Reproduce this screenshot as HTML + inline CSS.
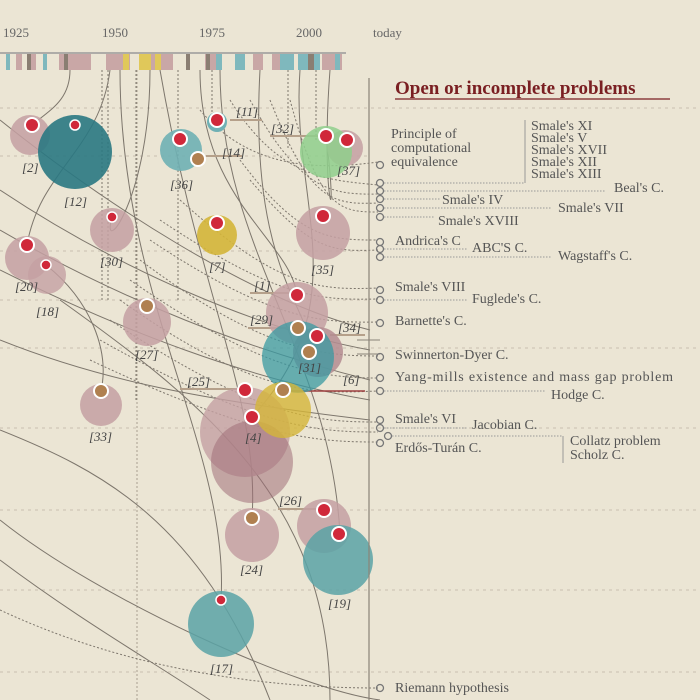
<!DOCTYPE html>
<html><head><meta charset="utf-8"><style>
html,body{margin:0;padding:0;background:#ebe5d4;}
svg{display:block;font-family:"Liberation Serif",serif;}
</style></head><body>
<svg width="700" height="700" viewBox="0 0 700 700" xmlns="http://www.w3.org/2000/svg">
<rect width="700" height="700" fill="#ebe5d4"/>
<g stroke="#cfc8b8" stroke-width="1.2" stroke-dasharray="3,4" fill="none">
<line x1="0" y1="108" x2="700" y2="108"/>
<line x1="0" y1="156" x2="368" y2="156"/>
<line x1="0" y1="251" x2="368" y2="251"/>
<line x1="0" y1="300" x2="368" y2="300"/>
<line x1="0" y1="348" x2="700" y2="348"/>
<line x1="0" y1="428" x2="700" y2="428"/>
<line x1="0" y1="510" x2="700" y2="510"/>
<line x1="0" y1="590" x2="700" y2="590"/>
<line x1="0" y1="672" x2="700" y2="672"/>
</g>
<line x1="137" y1="70" x2="137" y2="700" stroke="#a9a090" stroke-dasharray="2,2"/>
<g font-size="13" fill="#666">
<text x="3" y="37">1925</text><text x="102" y="37">1950</text><text x="199" y="37">1975</text><text x="296" y="37">2000</text><text x="373" y="37">today</text>
</g>
<line x1="0" y1="53" x2="346" y2="53" stroke="#999" stroke-width="1.5"/>
<g>
<rect x="6" y="54" width="4" height="16" fill="#7fb8bd"/><rect x="16" y="54" width="6" height="16" fill="#c9a7a6"/><rect x="27" y="54" width="4" height="16" fill="#8a7e72"/><rect x="31" y="54" width="5" height="16" fill="#c9a7a6"/><rect x="43" y="54" width="4" height="16" fill="#7fb8bd"/><rect x="59" y="54" width="32" height="16" fill="#c9a7a6"/><rect x="64" y="54" width="4" height="16" fill="#8a7e72"/>
<rect x="106" y="54" width="24" height="16" fill="#c9a7a6"/><rect x="123" y="54" width="6" height="16" fill="#e0c85a"/><rect x="139" y="54" width="12" height="16" fill="#e0c85a"/><rect x="151" y="54" width="22" height="16" fill="#c9a7a6"/><rect x="155" y="54" width="6" height="16" fill="#e0c85a"/>
<rect x="186" y="54" width="4" height="16" fill="#8a7e72"/><rect x="205" y="54" width="12" height="16" fill="#c9a7a6"/><rect x="206" y="54" width="4" height="16" fill="#8a7e72"/><rect x="216" y="54" width="6" height="16" fill="#7fb8bd"/><rect x="235" y="54" width="10" height="16" fill="#7fb8bd"/><rect x="253" y="54" width="10" height="16" fill="#c9a7a6"/>
<rect x="272" y="54" width="8" height="16" fill="#c9a7a6"/><rect x="280" y="54" width="14" height="16" fill="#7fb8bd"/><rect x="298" y="54" width="22" height="16" fill="#7fb8bd"/><rect x="308" y="54" width="6" height="16" fill="#8a7e72"/><rect x="322" y="54" width="20" height="16" fill="#c9a7a6"/><rect x="335" y="54" width="5" height="16" fill="#7fb8bd"/>
</g>
<g fill="none" stroke="#7d766c" stroke-width="1">
<path d="M70 70 C 70 100,50 110,32 125"/>
<path d="M110 70 C 100 150,40 170,27 245"/>
<path d="M150 70 C 150 200,100 260,112 217"/>
<path d="M0 120 C 100 200,250 300,370 330"/>
<path d="M0 230 C 120 300,250 350,370 380"/>
<path d="M0 340 C 100 380,200 400,370 420"/>
<path d="M0 430 C 100 470,200 520,270 700"/>
<path d="M0 520 C 100 600,300 690,380 700"/>
<path d="M0 560 C 80 620,150 660,210 700"/>
<path d="M46 265 C 90 300,110 350,101 391"/>
<path d="M200 70 C 200 200,290 240,297 295"/>
<path d="M260 70 C 250 250,300 300,310 340"/>
<path d="M300 70 C 290 200,360 300,252 417"/>
<path d="M330 70 C 320 200,340 250,326 136"/>
<path d="M160 70 C 200 300,260 400,252 518"/>
<path d="M120 70 C 120 300,230 450,221 600"/>
<path d="M220 70 C 220 250,330 350,340 534"/>
<path d="M60 300 C 200 400,330 500,330 700"/>
<path d="M0 270 C 120 330,250 380,370 400"/>
<path d="M0 190 C 120 270,260 330,370 350"/>
</g>
<g fill="none" stroke="#7d766c" stroke-width="1" stroke-dasharray="2,2">
<path d="M200 110 C 250 170,320 170,378 162"/>
<path d="M230 100 C 280 180,330 180,378 185"/>
<path d="M250 100 C 300 190,330 195,378 194"/>
<path d="M270 100 C 310 200,330 205,378 203"/>
<path d="M290 100 C 320 210,340 212,378 212"/>
<path d="M240 160 C 300 240,330 240,378 240"/>
<path d="M250 180 C 310 250,330 252,378 250"/>
<path d="M180 200 C 280 290,320 290,378 288"/>
<path d="M160 220 C 280 300,320 300,378 299"/>
<path d="M150 240 C 270 320,320 323,378 322"/>
<path d="M140 260 C 260 350,320 356,378 356"/>
<path d="M130 280 C 260 370,320 378,378 378"/>
<path d="M120 300 C 260 400,320 393,378 391"/>
<path d="M110 320 C 260 420,320 422,378 422"/>
<path d="M100 340 C 260 430,320 432,378 432"/>
<path d="M90 360 C 260 440,320 442,378 442"/>
<path d="M0 610 C 150 680,300 688,378 688"/>
<path d="M102 70 L102 300 M108 70 L108 300 M136 70 L136 400 M178 70 L178 300 M212 70 L212 120 M288 70 L288 150 M316 70 L316 140"/>
</g>
<g fill="none" stroke="#b5a08a" stroke-width="2">
<line x1="230" y1="120" x2="262" y2="120"/><line x1="270" y1="136" x2="322" y2="136"/><line x1="206" y1="156" x2="242" y2="156"/><line x1="250" y1="293" x2="292" y2="293"/><line x1="248" y1="328" x2="292" y2="328"/><line x1="180" y1="389" x2="240" y2="389"/><line x1="278" y1="509" x2="318" y2="509"/><line x1="330" y1="335" x2="365" y2="335"/>
</g>
<line x1="285" y1="391" x2="365" y2="391" stroke="#a04040" stroke-width="1.5"/>
<g>
<circle cx="30" cy="135" r="20" fill="#c4a0a2" opacity="0.85"/>
<circle cx="75" cy="152" r="37" fill="#2a7882" opacity="0.9"/>
<circle cx="217" cy="122" r="10" fill="#6fb0b4"/>
<circle cx="181" cy="150" r="21" fill="#6fb0b4" opacity="0.9"/>
<circle cx="345" cy="148" r="18" fill="#c4a0a2" opacity="0.85"/>
<circle cx="326" cy="152" r="26" fill="#8fcf8c" opacity="0.85"/>
<circle cx="112" cy="230" r="22" fill="#c4a0a2" opacity="0.85"/>
<circle cx="217" cy="235" r="20" fill="#d4b538" opacity="0.9"/>
<circle cx="323" cy="233" r="27" fill="#c4a0a2" opacity="0.85"/>
<circle cx="27" cy="258" r="22" fill="#c4a0a2" opacity="0.85"/>
<circle cx="47" cy="275" r="19" fill="#c4a0a2" opacity="0.8"/>
<circle cx="147" cy="322" r="24" fill="#c4a0a2" opacity="0.85"/>
<circle cx="297" cy="313" r="31" fill="#c4a0a2" opacity="0.85"/>
<circle cx="318" cy="352" r="25" fill="#b48c90" opacity="0.85"/>
<circle cx="298" cy="357" r="36" fill="#3a9aa2" opacity="0.75"/>
<circle cx="101" cy="405" r="21" fill="#c4a0a2" opacity="0.85"/>
<circle cx="245" cy="432" r="45" fill="#c4a0a2" opacity="0.8"/>
<circle cx="252" cy="462" r="41" fill="#a07078" opacity="0.55"/>
<circle cx="283" cy="410" r="28" fill="#d4b538" opacity="0.8"/>
<circle cx="252" cy="535" r="27" fill="#c4a0a2" opacity="0.85"/>
<circle cx="324" cy="526" r="27" fill="#c4a0a2" opacity="0.85"/>
<circle cx="338" cy="560" r="35" fill="#5aa3a6" opacity="0.85"/>
<circle cx="221" cy="624" r="33" fill="#5aa3a6" opacity="0.85"/>
</g>
<g stroke="#fff" stroke-width="2">
<g fill="#d0283a">
<circle cx="32" cy="125" r="7"/><circle cx="217" cy="120" r="7"/><circle cx="180" cy="139" r="7"/><circle cx="326" cy="136" r="7"/><circle cx="347" cy="140" r="7"/><circle cx="217" cy="223" r="7"/><circle cx="323" cy="216" r="7"/><circle cx="27" cy="245" r="7"/><circle cx="297" cy="295" r="7"/><circle cx="317" cy="336" r="7"/><circle cx="245" cy="390" r="7"/><circle cx="252" cy="417" r="7"/><circle cx="324" cy="510" r="7"/><circle cx="339" cy="534" r="7"/>
</g>
<g fill="#b08050">
<circle cx="198" cy="159" r="7"/><circle cx="147" cy="306" r="7"/><circle cx="298" cy="328" r="7"/><circle cx="309" cy="352" r="7"/><circle cx="101" cy="391" r="7"/><circle cx="283" cy="390" r="7"/><circle cx="252" cy="518" r="7"/>
</g>
</g>
<g fill="#d0283a" stroke="#fff" stroke-width="1.5">
<circle cx="75" cy="125" r="5"/><circle cx="112" cy="217" r="5"/><circle cx="46" cy="265" r="5"/><circle cx="221" cy="600" r="5"/>
</g>
<g font-size="13" font-style="italic" fill="#444">
<text x="22" y="172">[2]</text><text x="64" y="206">[12]</text><text x="236" y="116">[11]</text><text x="271" y="133">[32]</text><text x="222" y="157">[14]</text><text x="170" y="189">[36]</text><text x="337" y="175">[37]</text>
<text x="100" y="266">[30]</text><text x="209" y="271">[7]</text><text x="311" y="274">[35]</text><text x="15" y="291">[20]</text><text x="36" y="316">[18]</text><text x="135" y="359">[27]</text>
<text x="254" y="290">[1]</text><text x="250" y="324">[29]</text><text x="338" y="332">[34]</text><text x="298" y="372">[31]</text><text x="187" y="386">[25]</text><text x="343" y="384">[6]</text><text x="245" y="442">[4]</text><text x="89" y="441">[33]</text>
<text x="279" y="505">[26]</text><text x="240" y="574">[24]</text><text x="328" y="608">[19]</text><text x="210" y="673">[17]</text>
</g>
<line x1="369" y1="78" x2="369" y2="700" stroke="#8a8378" stroke-width="1.2"/>
<line x1="357" y1="340" x2="380" y2="340" stroke="#8a8378"/><line x1="357" y1="354" x2="380" y2="354" stroke="#8a8378"/>
<text x="395" y="94" font-size="19" font-weight="bold" fill="#7a1f22">Open or incomplete problems</text>
<line x1="395" y1="99" x2="670" y2="99" stroke="#7a1f22" stroke-width="1.2"/>
<g fill="none" stroke="#777" stroke-width="1.3">
<circle cx="380" cy="165" r="3.5"/><circle cx="380" cy="183" r="3.5"/><circle cx="380" cy="191" r="3.5"/><circle cx="380" cy="199" r="3.5"/><circle cx="380" cy="208" r="3.5"/><circle cx="380" cy="217" r="3.5"/>
<circle cx="380" cy="242" r="3.5"/><circle cx="380" cy="249" r="3.5"/><circle cx="380" cy="257" r="3.5"/><circle cx="380" cy="290" r="3.5"/><circle cx="380" cy="300" r="3.5"/><circle cx="380" cy="323" r="3.5"/>
<circle cx="380" cy="357" r="3.5"/><circle cx="380" cy="378" r="3.5"/><circle cx="380" cy="391" r="3.5"/><circle cx="380" cy="420" r="3.5"/><circle cx="380" cy="428" r="3.5"/><circle cx="388" cy="436" r="3.5"/><circle cx="380" cy="443" r="3.5"/><circle cx="380" cy="688" r="3.5"/>
</g>
<g stroke="#999" stroke-width="1" stroke-dasharray="1.5,1.5">
<line x1="384" y1="183" x2="525" y2="183"/><line x1="384" y1="191" x2="605" y2="191"/><line x1="384" y1="199" x2="440" y2="199"/><line x1="384" y1="208" x2="552" y2="208"/><line x1="384" y1="217" x2="435" y2="217"/>
<line x1="384" y1="249" x2="468" y2="249"/><line x1="384" y1="257" x2="552" y2="257"/><line x1="384" y1="300" x2="468" y2="300"/><line x1="384" y1="391" x2="545" y2="391"/><line x1="384" y1="428" x2="468" y2="428"/><line x1="392" y1="436" x2="563" y2="436"/>
</g>
<line x1="525" y1="120" x2="525" y2="183" stroke="#999"/><line x1="563" y1="436" x2="563" y2="463" stroke="#999"/>
<g font-size="14" fill="#555">
<text x="391" y="138">Principle of</text><text x="391" y="152">computational</text><text x="391" y="166">equivalence</text>
<text x="531" y="130">Smale's XI</text><text x="531" y="142">Smale's V</text><text x="531" y="154">Smale's XVII</text><text x="531" y="166">Smale's XII</text><text x="531" y="178">Smale's XIII</text>
<text x="614" y="192">Beal's C.</text><text x="442" y="204">Smale's IV</text><text x="558" y="212">Smale's VII</text><text x="438" y="225">Smale's XVIII</text>
<text x="395" y="245">Andrica's C</text><text x="472" y="252">ABC'S C.</text><text x="558" y="260">Wagstaff's C.</text>
<text x="395" y="291">Smale's VIII</text><text x="472" y="303">Fuglede's C.</text><text x="395" y="325">Barnette's C.</text>
<text x="395" y="359">Swinnerton-Dyer C.</text><text x="395" y="381" textLength="278">Yang-mills existence and mass gap problem</text><text x="551" y="399">Hodge C.</text>
<text x="395" y="423">Smale's VI</text><text x="472" y="429">Jacobian C.</text><text x="570" y="445">Collatz problem</text><text x="570" y="459">Scholz C.</text><text x="395" y="452">Erdős-Turán C.</text>
<text x="395" y="692">Riemann hypothesis</text>
</g>
</svg>
</body></html>
